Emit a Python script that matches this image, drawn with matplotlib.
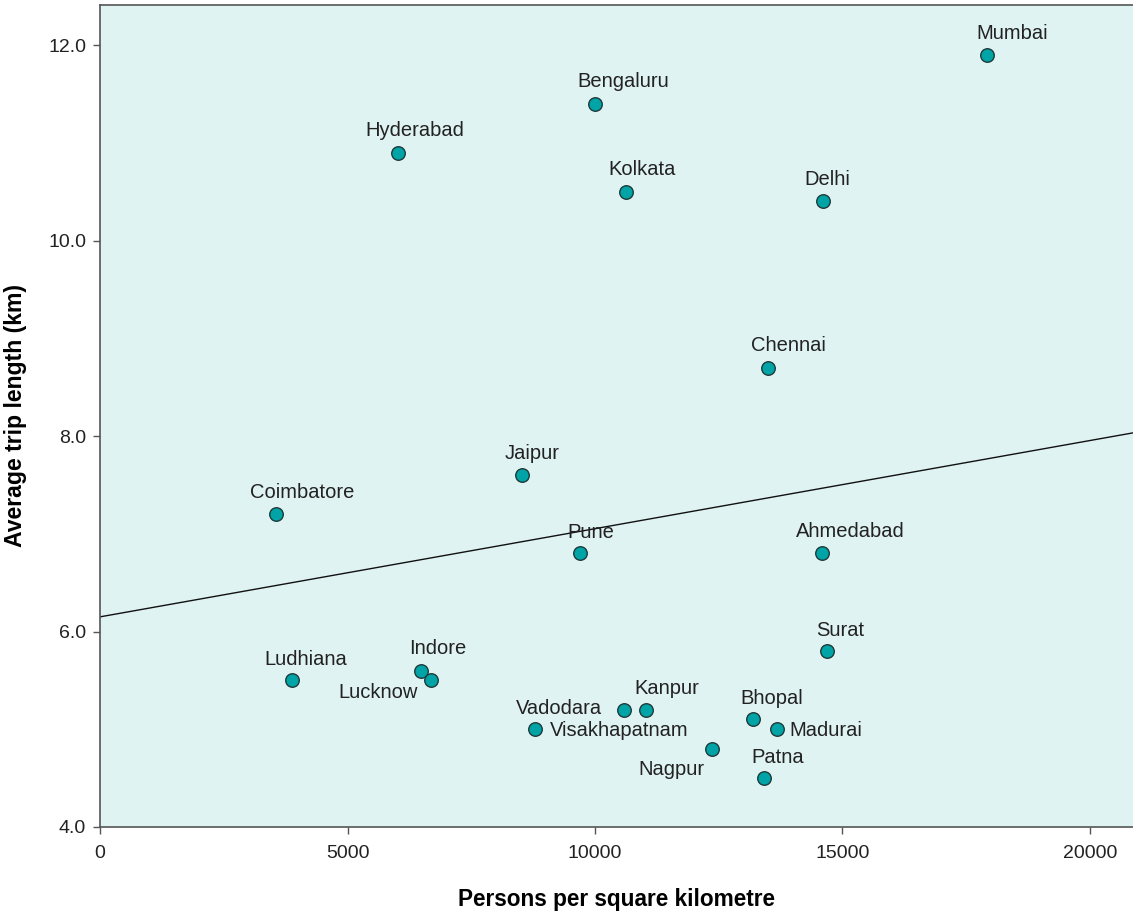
import numpy as np
import matplotlib
matplotlib.use("Agg")
import matplotlib.pyplot as plt

plt.rcParams.update({
    "font.family": ["Liberation Sans", "DejaVu Sans"],
    "text.color": "#222222",
    "axes.edgecolor": "#555555",
    "xtick.color": "#555555",
    "ytick.color": "#555555",
    "xtick.labelcolor": "#222222",
    "ytick.labelcolor": "#222222",
})

BG = "#e0f3f3"
DOT = "#00a3a6"
DOT_EDGE = "#1f3a3a"

# data
cities = ["Mumbai", "Bengaluru", "Hyderabad", "Kolkata", "Delhi", "Chennai",
          "Jaipur", "Coimbatore", "Pune", "Ahmedabad", "Surat", "Ludhiana",
          "Indore", "Lucknow", "Vadodara", "Kanpur", "Visakhapatnam",
          "Bhopal", "Madurai", "Nagpur", "Patna"]
density = [17920, 10000, 6020, 10630, 14610, 13500,
           8530, 3560, 9700, 14590, 14690, 3880,
           6490, 6690, 10590, 11030, 8790,
           13190, 13680, 12360, 13410]
trip_km = [11.9, 11.4, 10.9, 10.5, 10.4, 8.7,
           7.6, 7.2, 6.8, 6.8, 5.8, 5.5,
           5.6, 5.5, 5.2, 5.2, 5.0,
           5.1, 5.0, 4.8, 4.5]

trend_intercept = 6.15
trend_slope = 9.02e-5

x_ticks = [0, 5000, 10000, 15000, 20000]
y_ticks = [4.0, 6.0, 8.0, 10.0, 12.0]

# label placement: (dx px, dy px, ha) relative to marker; dy down-positive
label_pos = {
    "Mumbai": (25, -21, "center"),
    "Bengaluru": (28, -22, "center"),
    "Hyderabad": (17, -22, "center"),
    "Kolkata": (16, -22, "center"),
    "Delhi": (4, -22, "center"),
    "Chennai": (20, -22, "center"),
    "Jaipur": (10, -22, "center"),
    "Coimbatore": (26, -22, "center"),
    "Pune": (11, -21, "center"),
    "Ahmedabad": (28, -22, "center"),
    "Surat": (13, -21, "center"),
    "Ludhiana": (14, -21, "center"),
    "Indore": (16, -22, "center"),
    "Lucknow": (-13, 12, "right"),
    "Vadodara": (-22, -1, "right"),
    "Kanpur": (21, -21, "center"),
    "Visakhapatnam": (15, 1, "left"),
    "Bhopal": (19, -21, "center"),
    "Madurai": (12, 1, "left"),
    "Nagpur": (-7, 21, "right"),
    "Patna": (14, -21, "center"),
}

fig = plt.figure(figsize=(11.33, 9.15), dpi=100)
ax = fig.add_axes([0.0883, 0.0962, 0.9117, 0.8983])
ax.set_facecolor(BG)

xlim = (0, 20870)
ax.set_xlim(*xlim)
ax.set_ylim(4.0, 12.41)

# fitted trend line across the full width
xs = np.array(xlim)
ax.plot(xs, trend_intercept + trend_slope * xs, color="#111111",
        linewidth=1.0, zorder=2)

ax.scatter(density, trip_km, s=95, color=DOT, edgecolor=DOT_EDGE,
           linewidth=1.0, zorder=3, clip_on=False)

px = 0.72  # points per pixel at 100 dpi
for name, x, y in zip(cities, density, trip_km):
    dx, dy, ha = label_pos[name]
    ax.annotate(name, (x, y), xytext=(dx * px, -dy * px),
                textcoords="offset points", ha=ha, va="center",
                fontsize=14.5, color="#222222", zorder=4)

ax.set_xticks(x_ticks)
ax.set_xticklabels([f"{t}" for t in x_ticks])
ax.set_yticks(y_ticks)
ax.set_yticklabels([f"{t:.1f}" for t in y_ticks])
ax.tick_params(direction="out", length=5, width=1.0, labelsize=14)
ax.tick_params(axis="x", pad=8)
ax.tick_params(axis="y", pad=5)

ax.spines["right"].set_visible(False)
for s in ("left", "bottom", "top"):
    ax.spines[s].set_linewidth(1.2)

ax.set_xlabel("Persons per square kilometre", fontsize=16.3,
              fontweight="bold")
ax.set_ylabel("Average trip length (km)", fontsize=16.6,
              fontweight="bold")
ax.xaxis.set_label_coords(0.5, -0.074)
ax.yaxis.set_label_coords(-0.071, 0.501)

fig.savefig("out.png", dpi=100)
